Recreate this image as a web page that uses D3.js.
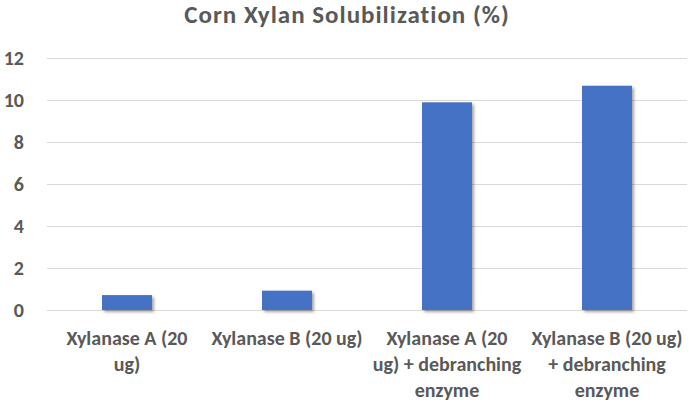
<!DOCTYPE html>
<html>
<head>
<meta charset="utf-8">
<script src="https://cdn.jsdelivr.net/npm/d3@7"></script>
<style>
  body { margin: 0; background: #fff; }
  text { font-family: Carlito, Calibri, Lato, "Open Sans", sans-serif; font-weight: bold; fill: #595959; }
</style>
</head>
<body>
<svg id="chart" width="689" height="403"></svg>
<script>
// chart data
var categories = [
  "Xylanase A (20\nug)",
  "Xylanase B (20 ug)",
  "Xylanase A (20\nug) + debranching\nenzyme",
  "Xylanase B (20 ug)\n+ debranching\nenzyme"
];
var values = [0.71, 0.92, 9.89, 10.68];
var yTicks = [0, 2, 4, 6, 8, 10, 12];
var title = "Corn Xylan Solubilization (%)";

var svg = d3.select("#chart");
var margin = {left: 47, right: 2, top: 58, bottom: 93};
var W = 689, H = 403;

var x = d3.scaleBand()
    .domain(categories)
    .range([margin.left, W - margin.right])
    .paddingInner(0.6875)
    .paddingOuter(0.34375);

var y = d3.scaleLinear()
    .domain([0, 12])
    .range([H - margin.bottom, margin.top]);

// shadow for the bars
var defs = svg.append("defs");
var f = defs.append("filter").attr("id", "shadow")
    .attr("x", "-20%").attr("y", "-20%").attr("width", "150%").attr("height", "150%");
f.append("feDropShadow")
    .attr("dx", 2).attr("dy", 2).attr("stdDeviation", 1.5)
    .attr("flood-color", "#000").attr("flood-opacity", 0.35);

svg.append("text")
    .attr("x", 347)
    .attr("y", 23)
    .attr("text-anchor", "middle")
    .style("font-size", "25px")
    .style("letter-spacing", "1px")
    .text(title);

// gridlines
svg.append("g").selectAll("line")
    .data(yTicks)
    .enter().append("line")
      .attr("x1", margin.left)
      .attr("x2", W - margin.right)
      .attr("y1", function(d) { return Math.round(y(d)) + 0.5 })
      .attr("y2", function(d) { return Math.round(y(d)) + 0.5 })
      .style("stroke", "#d9d9d9")
      .style("stroke-width", 1);

// y tick labels
svg.append("g").selectAll("text")
    .data(yTicks)
    .enter().append("text")
      .attr("x", 24)
      .attr("y", function(d) { return y(d) + 7 })
      .attr("text-anchor", "end")
      .style("font-size", "20px")
      .text(function(d) { return d });

// bars
svg.append("g").selectAll("rect")
    .data(values)
    .enter().append("rect")
      .attr("x", function(d, i) { return x(categories[i]) })
      .attr("width", x.bandwidth())
      .attr("y", function(d) { return y(d) })
      .attr("height", function(d) { return y(0) - y(d) })
      .attr("fill", "#4472c4")
      .attr("filter", "url(#shadow)");

// category labels
var labels = svg.append("g").selectAll("text")
    .data(categories)
    .enter().append("text")
      .attr("text-anchor", "middle")
      .style("font-size", "20px")
      .attr("transform", function(d) {
        return "translate(" + (x(d) + x.bandwidth() / 2) + ",345)"
      });

labels.selectAll("tspan")
    .data(function(d) { return d.split("\n") })
    .enter().append("tspan")
      .attr("x", 0)
      .attr("dy", function(d, i) { return i == 0 ? 0 : 26 })
      .text(function(d) { return d });
</script>
</body>
</html>
